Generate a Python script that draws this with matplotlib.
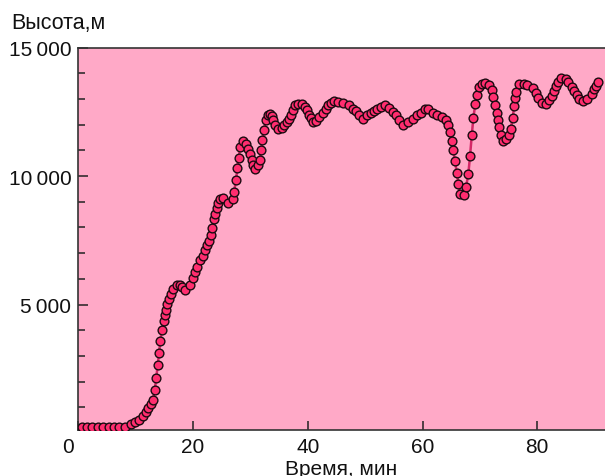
import matplotlib.pyplot as plt
from matplotlib.ticker import MultipleLocator, FixedLocator
import matplotlib.transforms as mtransforms

plt.rcParams['font.family'] = ['Liberation Sans', 'DejaVu Sans']

# time, min
time_min = [0.61, 1.53, 2.46, 3.40, 4.37, 5.32, 6.24, 7.16, 8.21, 9.20, 9.90, 10.60, 11.24, 11.76,
            12.22, 12.64, 13.04, 13.33, 13.61, 13.86, 14.08, 14.31, 14.60, 14.90, 15.13, 15.30, 15.53,
            15.77, 16.09, 16.57, 17.22, 17.65, 18.09, 18.61, 19.40, 19.99, 20.36, 20.76, 21.23, 21.70,
            22.10, 22.45, 22.74, 23.09, 23.32, 23.67, 23.89, 24.14, 24.36, 24.71, 25.29, 26.02, 27.03,
            27.15, 27.50, 27.73, 27.97, 28.20, 28.77, 29.24, 29.65, 29.94, 30.24, 30.52, 30.81, 31.28,
            31.68, 31.86, 32.09, 32.38, 32.68, 33.03, 33.43, 33.72, 34.00, 34.30, 34.87, 35.47, 35.92,
            36.34, 36.74, 37.09, 37.38, 37.78, 38.36, 38.95, 39.53, 39.93, 40.28, 40.52, 40.97, 41.39,
            42.02, 42.61, 43.19, 43.59, 44.01, 44.58, 45.33, 46.20, 47.25, 47.94, 48.41, 48.99, 49.58,
            50.38, 50.98, 51.55, 52.13, 52.72, 53.47, 54.22, 54.92, 55.39, 55.96, 56.66, 57.53, 58.40,
            59.10, 59.69, 60.44, 61.01, 61.78, 62.58, 63.35, 64.10, 64.50, 64.80, 65.15, 65.37, 65.67,
            65.97, 66.24, 66.54, 67.24, 67.59, 67.99, 68.28, 68.58, 68.86, 69.21, 69.56, 69.90, 70.32,
            70.90, 71.65, 72.07, 72.34, 72.64, 72.94, 73.22, 73.39, 73.63, 73.98, 74.56, 75.13, 75.38,
            75.72, 75.95, 76.12, 76.30, 76.87, 77.69, 78.27, 79.21, 79.79, 80.19, 80.78, 81.53, 82.10,
            82.52, 82.92, 83.27, 83.67, 84.09, 85.01, 85.42, 86.01, 86.41, 86.88, 87.33, 87.92, 88.72,
            89.49, 89.89, 90.24, 90.54]

# altitude, m
altitude_m = [250, 250, 250, 250, 250, 250, 250, 250, 250, 343, 421, 510, 678, 834,
              978, 1133, 1301, 1679, 2158, 2664, 3120, 3587, 4004, 4366, 4573, 4795, 5001,
              5196, 5398, 5601, 5741, 5768, 5671, 5546, 5757, 6022, 6255, 6470, 6715, 6886,
              7104, 7307, 7471, 7716, 7977, 8312, 8534, 8748, 8943, 9118, 9145, 8943, 9091,
              9379, 9831, 10326, 10703, 11124, 11350, 11260, 11066, 10851, 10637, 10443, 10287, 10443,
              10610, 11000, 11389, 11778, 12168, 12363, 12429, 12339, 12168, 11973, 11845, 11872, 12000,
              12106, 12234, 12390, 12557, 12752, 12818, 12791, 12690, 12557, 12390, 12261, 12106, 12129,
              12300, 12468, 12624, 12752, 12857, 12908, 12885, 12838, 12752, 12624, 12519, 12390, 12234,
              12363, 12468, 12519, 12596, 12690, 12752, 12651, 12495, 12363, 12168, 12000, 12106, 12234,
              12390, 12468, 12624, 12596, 12468, 12390, 12300, 12168, 12000, 11716, 11350, 11000, 10571,
              10131, 9702, 9313, 9274, 9574, 10092, 10781, 11584, 12261, 12818, 13142, 13469, 13597,
              13636, 13531, 13336, 13080, 12780, 12468, 12168, 11911, 11611, 11350, 11428, 11584, 11845,
              12261, 12729, 13040, 13274, 13597, 13597, 13558, 13430, 13247, 13040, 12857, 12818, 12947,
              13118, 13298, 13508, 13664, 13820, 13765, 13664, 13469, 13298, 13142, 13013, 12908, 13013,
              13208, 13376, 13508, 13664]

x_ticks = [0, 20, 40, 60, 80]
y_ticks = [5000, 10000, 15000]
y_tick_labels = ['5\u2009000', '10\u2009000', '15\u2009000']

fig = plt.figure(figsize=(6.05, 4.77), dpi=100)
ax = fig.add_axes([0.1293, 0.0971, 0.8707, 0.8012])
ax.set_facecolor('#ffa9c7')

ax.plot(time_min, altitude_m, color='#d42867', lw=1.8, zorder=2)
ax.plot(time_min, altitude_m, ls='none', marker='o', ms=6.3, mfc='#ff2d6f',
        mec='#1a0a10', mew=1.0, zorder=3)

ax.set_xlim(0, 91.8)
ax.set_ylim(130, 15000)

ax.xaxis.set_major_locator(FixedLocator(x_ticks))
ax.yaxis.set_major_locator(FixedLocator(y_ticks))
ax.set_yticklabels(y_tick_labels)
ax.yaxis.set_minor_locator(MultipleLocator(1000))

ax.tick_params(axis='both', which='major', direction='in', labelsize=15,
               colors='#222222', width=1.1)
ax.tick_params(axis='x', which='major', length=6.5, pad=5)
ax.tick_params(axis='y', which='major', length=7.5, pad=5)
ax.tick_params(axis='y', which='minor', direction='in', length=5, width=1.1, colors='#222222')
ax.tick_params(axis='x', which='minor', length=0)
for lbl in ax.get_xticklabels() + ax.get_yticklabels():
    lbl.set_color('#111111')

for side in ['left', 'bottom', 'top']:
    ax.spines[side].set_color('#333333')
    ax.spines[side].set_linewidth(1.2)
ax.spines['right'].set_visible(False)

# shift the "0" label left, off the y axis
off = mtransforms.ScaledTranslation(-10 / 100, 0, fig.dpi_scale_trans)
lbl0 = ax.get_xticklabels()[0]
lbl0.set_transform(lbl0.get_transform() + off)

ax.set_xlabel('Время, мин', fontsize=15, color='#111111')
ax.xaxis.set_label_coords(0.5, -0.076)
fig.text(0.0193, 0.9386, 'Высота,м', fontsize=15.5, va='baseline', ha='left', color='#111111')

fig.savefig('out.png', dpi=100)
